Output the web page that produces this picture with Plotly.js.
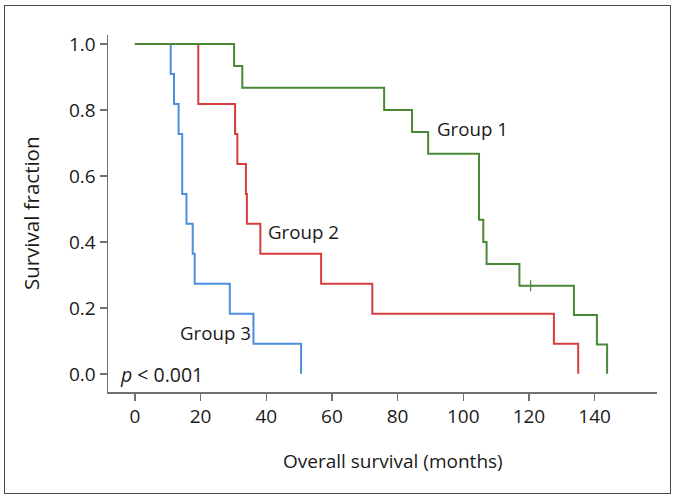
<!DOCTYPE html>
<html>
<head>
<meta charset="utf-8">
<script src="https://cdn.plot.ly/plotly-3.0.1.min.js"></script>
<style>
html,body{margin:0;padding:0;background:#fff;}
#chart{position:absolute;left:0;top:0;width:677px;height:500px;}
#frame{position:absolute;left:4px;top:5px;width:667px;height:489px;border:1.5px solid #4a4a4a;box-sizing:border-box;pointer-events:none;}
</style>
</head>
<body>
<div id="chart"></div>
<div id="frame"></div>
<script>
// Kaplan-Meier step data (months, survival fraction)
const group1Time = [0, 30.2, 32.7, 75.9, 84.4, 89.3, 104.8, 106.1, 107.1, 117.1, 133.7, 140.7, 143.8];
const group1Surv = [1.0, 0.933, 0.867, 0.800, 0.733, 0.667, 0.467, 0.400, 0.333, 0.267, 0.178, 0.089, 0.0];
const group2Time = [0, 19.3, 30.5, 31.2, 33.8, 34.1, 38.2, 56.7, 72.3, 127.6, 135.0];
const group2Surv = [1.0, 0.818, 0.727, 0.636, 0.545, 0.455, 0.364, 0.273, 0.182, 0.091, 0.0];
const group3Time = [0, 10.9, 11.9, 13.3, 14.4, 15.7, 17.6, 18.2, 28.9, 36.1, 50.6];
const group3Surv = [1.0, 0.909, 0.818, 0.727, 0.545, 0.455, 0.364, 0.273, 0.182, 0.091, 0.0];
const censorTime = [120.5];
const censorSurv = [0.267];
const groupNames = ["Group 1", "Group 2", "Group 3"];
const xTicks = [0, 20, 40, 60, 80, 100, 120, 140];
const yTicks = [0.0, 0.2, 0.4, 0.6, 0.8, 1.0];

const green = "rgb(74,136,56)";
const red = "rgb(214,62,62)";
const blue = "rgb(74,144,220)";
const FONT = "Open Sans, sans-serif";
const TXT = "#1a1a1a";

const traces = [
  {x: group3Time, y: group3Surv, mode: "lines", line: {shape: "hv", color: blue, width: 2}, name: groupNames[2]},
  {x: group2Time, y: group2Surv, mode: "lines", line: {shape: "hv", color: red, width: 2}, name: groupNames[1]},
  {x: group1Time, y: group1Surv, mode: "lines", line: {shape: "hv", color: green, width: 2}, name: groupNames[0]},
  {x: censorTime, y: censorSurv, mode: "markers", marker: {symbol: "line-ns", size: 8, line: {color: green, width: 1.2}}, name: "censored"}
];

const layout = {
  width: 677, height: 500,
  margin: {l: 108, r: 20, t: 35, b: 108},
  showlegend: false,
  paper_bgcolor: "#fff", plot_bgcolor: "#fff",
  font: {family: FONT, size: 19, color: TXT},
  xaxis: {
    range: [-8.2, 159], tickvals: xTicks, ticktext: xTicks.map(String),
    showgrid: false, zeroline: false, showline: true, linecolor: "#707070", linewidth: 1.5,
    ticks: "outside", ticklen: 7, tickwidth: 1.5, tickcolor: "#707070",
    tickfont: {family: FONT, size: 19, color: TXT}
  },
  yaxis: {
    range: [-0.055, 1.027], tickvals: yTicks, ticktext: yTicks.map(v => v.toFixed(1)),
    showgrid: false, zeroline: false, showline: true, linecolor: "#707070", linewidth: 1.5,
    ticks: "outside", ticklen: 7, tickwidth: 1.5, tickcolor: "#707070",
    tickfont: {family: FONT, size: 19, color: TXT}
  },
  annotations: [
    {text: "Overall survival (months)", xref: "paper", yref: "paper", x: 0.519, y: -0.193, xanchor: "center", yanchor: "middle", showarrow: false, font: {family: FONT, size: 19, color: TXT}},
    {text: "Survival fraction", xref: "paper", yref: "paper", x: -0.141, y: 0.5, xanchor: "center", yanchor: "middle", textangle: -90, showarrow: false, font: {family: FONT, size: 20.5, color: TXT}},
    {text: groupNames[0], x: 91.5, y: 0.745, xanchor: "left", yanchor: "middle", showarrow: false, font: {family: FONT, size: 18.7, color: TXT}},
    {text: groupNames[1], x: 40, y: 0.43, xanchor: "left", yanchor: "middle", showarrow: false, font: {family: FONT, size: 18.7, color: TXT}},
    {text: groupNames[2], x: 13, y: 0.124, xanchor: "left", yanchor: "middle", showarrow: false, font: {family: FONT, size: 18.7, color: TXT}},
    {text: "<i>p</i> < 0.001", x: -5.2, y: -0.003, xanchor: "left", yanchor: "middle", showarrow: false, font: {family: FONT, size: 19.5, color: TXT}}
  ]
};

Plotly.newPlot("chart", traces, layout, {displayModeBar: false, staticPlot: true});
</script>
</body>
</html>
